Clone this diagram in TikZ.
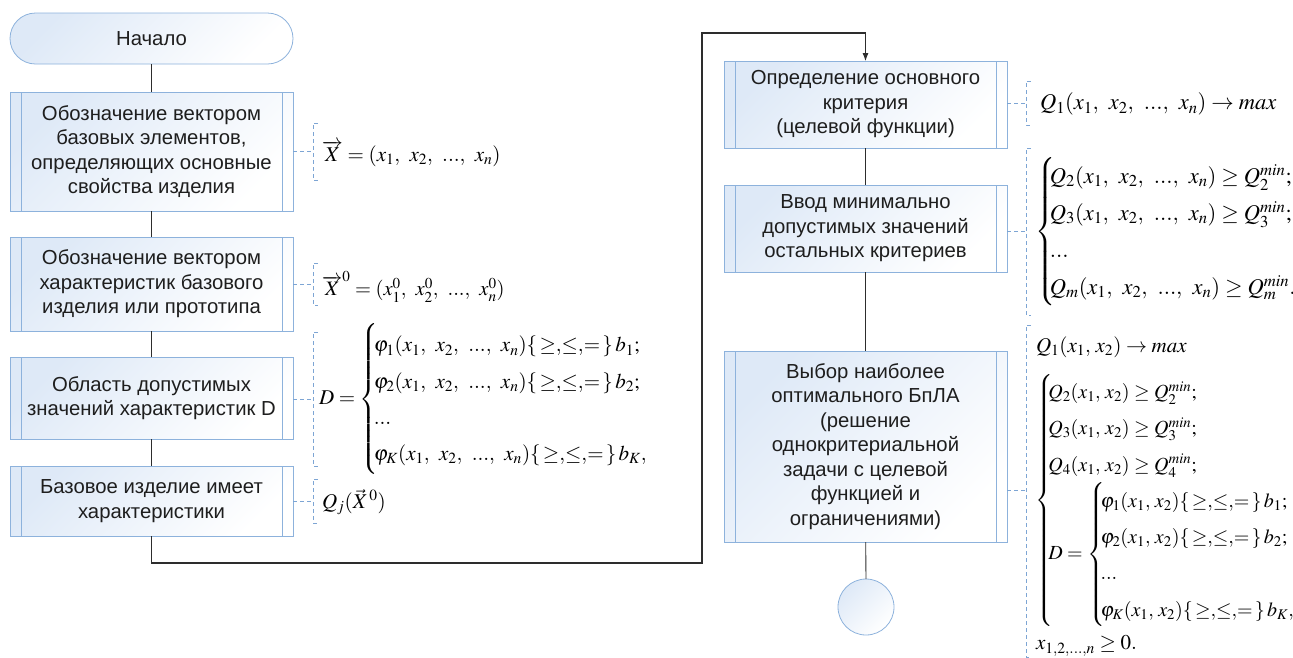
\documentclass[tikz,border=0pt]{standalone}
\usepackage{mathptmx}
\usepackage{fontspec}
\setmainfont{Liberation Sans}
\usetikzlibrary{arrows.meta}
\definecolor{boxline}{RGB}{141,178,220}
\definecolor{boxfill}{RGB}{222,233,247}
\definecolor{noteline}{RGB}{125,165,212}
\definecolor{flowline}{RGB}{45,45,45}
\definecolor{txt}{RGB}{30,30,30}
% dashed "[" annotation: x, top y, bottom y
\newcommand\notebracket[3]{\draw[note] (#1+5,#2) -- (#1,#2) -- (#1,#3) -- (#1+5,#3);}
% relation set {>=, <=, =}
\newcommand\relset{\{\,{\geq}{,}{\leq}{,}{=}\,\}\,}
\newcommand\cm{,\mskip 6mu}
\newcommand\cmt{,\,}
\newcommand\dts{{.}{.}{.}}
\begin{document}
\begin{tikzpicture}[x=1pt,y=-1pt,
  every node/.style={inner sep=0pt, outer sep=0pt},
  boxtext/.style={font=\fontsize{20.3}{24.5}\selectfont, text=txt, align=center},
  shadefill/.style={draw=boxline, line width=0.8pt, top color=boxfill, bottom color=white, shading angle=45},
  procbox/.style={shadefill, boxtext, minimum width=283pt,
    path picture={
      \draw[boxline, line width=0.8pt]
        ([xshift=11pt]path picture bounding box.north west) -- ([xshift=11pt]path picture bounding box.south west)
        ([xshift=-11pt]path picture bounding box.north east) -- ([xshift=-11pt]path picture bounding box.south east);}},
  termbox/.style={shadefill, boxtext, minimum width=283pt, minimum height=51pt, rounded corners=25.5pt},
  endcircle/.style={shadefill, circle, minimum size=56pt},
  flow/.style={draw=flowline, line width=0.8pt},
  mainflow/.style={draw=flowline, line width=1.4pt},
  note/.style={draw=noteline, line width=0.8pt, dash pattern=on 4pt off 3pt},
  formula/.style={anchor=west, font=\fontsize{21}{25}\selectfont, text=black}
]
\useasboundingbox (0,0) rectangle (1293,657);

% ---- left column ----
\node[termbox] (start) at (151.5,38.5) {Начало};
\node[procbox, minimum height=119pt] (b1) at (151.5,151.5)
  {Обозначение вектором\\базовых элементов,\\определяющих основные\\свойства изделия};
\node[procbox, minimum height=94pt] (b2) at (151.5,284)
  {Обозначение вектором\\характеристик базового\\изделия или прототипа};
\node[procbox, minimum height=82pt] (b3) at (151.5,398)
  {Область допустимых\\значений характеристик D};
\node[procbox, minimum height=70pt] (b4) at (151.5,501)
  {Базовое изделие имеет\\характеристики};

% ---- right column ----
\node[procbox, minimum height=87pt] (r1) at (865.5,104.5)
  {Определение основного\\критерия\\(целевой функции)};
\node[procbox, minimum height=87pt] (r2) at (865.5,228.5)
  {Ввод минимально\\допустимых значений\\остальных критериев};
\node[procbox, minimum height=191pt] (r3) at (865.5,446.5)
  {Выбор наиболее\\оптимального БпЛА\\(решение\\однокритериальной\\задачи с целевой\\функцией и\\ограничениями)};
\node[endcircle] (stop) at (866,607) {};

% ---- connectors ----
\draw[flow] (start) -- (b1);
\draw[flow] (b1) -- (b2);
\draw[flow] (b2) -- (b3);
\draw[flow] (b3) -- (b4);
\coordinate (t1) at (151.5,563);
\coordinate (t2) at (702,563);
\coordinate (t3) at (702,33);
\coordinate (t4) at (865.5,33);
\draw[mainflow] (b4) -- (t1) -- (t2) -- (t3) -- (t4);
\draw[flow, -{Latex[length=8pt,width=6pt]}] (t4) -- (r1);
\draw[flow] (r1) -- (r2);
\draw[flow] (r2) -- (r3);
\draw[flow] (r3) -- (stop);

% ---- annotations ----
\coordinate (m1) at (313,151.5);
\coordinate (m2) at (313,284);
\coordinate (m3) at (313,399);
\coordinate (m4) at (313,501);
\coordinate (m5) at (1026,103);
\coordinate (m6) at (1026,231.5);
\coordinate (m7) at (1026,490);
\draw[note] (b1.east |- m1) -- (m1);
\draw[note] (b2.east |- m2) -- (m2);
\draw[note] (b3.east |- m3) -- (m3);
\draw[note] (b4.east |- m4) -- (m4);
\draw[note] (r1.east |- m5) -- (m5);
\draw[note] (r2.east |- m6) -- (m6);
\draw[note] (r3.east |- m7) -- (m7);
\notebracket{313}{123}{180}
\notebracket{313}{263}{305}
\notebracket{313}{332}{466}
\notebracket{313}{479}{523}
\notebracket{1026}{81}{125}
\notebracket{1026}{148}{315}
\notebracket{1026}{325}{657}

% ---- formulas ----
\node[formula] (f1) at (322,154)
  {$\overrightarrow{X} = (x_1\cm x_2\cm \dts\cm x_n)$};
\node[formula, font=\fontsize{20.5}{25}\selectfont] (f2) at (322,287)
  {$\overrightarrow{X}^{0} = (x_1^0\cm x_2^0\cm \dts\cm x_n^0)$};
\node[formula] (f3) at (319,399)
  {\renewcommand{\arraystretch}{1.45}$D = \left\{\!\!\begin{array}{@{}l@{}}
    \varphi_1(x_1\cm x_2\cm \dts\cm x_n)\relset b_1;\\
    \varphi_2(x_1\cm x_2\cm \dts\cm x_n)\relset b_2;\\
    \dts\\
    \varphi_K(x_1\cm x_2\cm \dts\cm x_n)\relset b_K,
  \end{array}\right.$};
\node[formula] (f4) at (322,502) {$Q_j(\vec{X}^{\,0})$};
\node[formula, font=\fontsize{22.5}{26}\selectfont] (f5) at (1040,104)
  {$Q_1(x_1\cm x_2\cm \dts\cm x_n) \rightarrow max$};
\node[formula, font=\fontsize{22.5}{26}\selectfont] (f6) at (1035,231.5)
  {\renewcommand{\arraystretch}{1.42}$\left\{\!\!\begin{array}{@{}l@{}}
    Q_2(x_1\cm x_2\cm \dts\cm x_n) \geq Q_2^{min};\\
    Q_3(x_1\cm x_2\cm \dts\cm x_n) \geq Q_3^{min};\\
    \dts\\
    Q_m(x_1\cm x_2\cm \dts\cm x_n) \geq Q_m^{min}.
  \end{array}\right.$};
\node[formula] (f7) at (1036,347) {$Q_1(x_1\cmt x_2) \rightarrow max$};
\node[formula, font=\fontsize{20}{25}\selectfont] (f8) at (1035,500)
  {\renewcommand{\arraystretch}{1.45}$\left\{\!\!\begin{array}{@{}l@{}}
    Q_2(x_1\cmt x_2) \geq Q_2^{min};\\
    Q_3(x_1\cmt x_2) \geq Q_3^{min};\\
    Q_4(x_1\cmt x_2) \geq Q_4^{min};\\
    D = \left\{\!\!\begin{array}{@{}l@{}}
      \varphi_1(x_1\cmt x_2)\relset b_1;\\
      \varphi_2(x_1\cmt x_2)\relset b_2;\\
      \dts\\
      \varphi_K(x_1\cmt x_2)\relset b_K,
    \end{array}\right.
  \end{array}\right.$};
\node[formula] (f9) at (1036,646) {$x_{1,2,\dts,n} \geq 0.$};
\end{tikzpicture}
\end{document}
